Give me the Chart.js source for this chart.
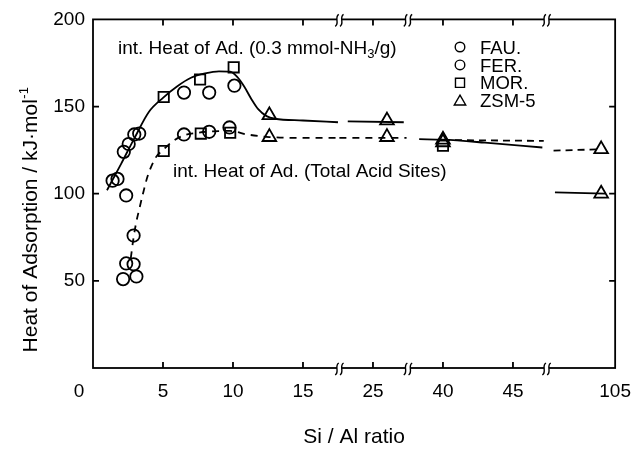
<!DOCTYPE html>
<html>
<head>
<meta charset="utf-8">
<script src="https://cdn.jsdelivr.net/npm/chart.js@4.4.1/dist/chart.umd.min.js"></script>
<style>
html,body{margin:0;padding:0;background:#fff;}
#wrap{width:643px;height:456px;}
</style>
</head>
<body>
<div id="wrap"><canvas id="c" width="643" height="456"></canvas></div>
<script>
const FONT = "'Liberation Sans', Arial, Helvetica, sans-serif";

// ---- axis definition (broken Si/Al axis: kept segments in real units) ----
const xSegments = [[0, 17.6], [22.6, 27.5], [37.5, 47.4], [100.1, 105]];
const xTickValues = [0, 5, 10, 15, 25, 40, 45, 105];
const xTickLabels = ['0', '5', '10', '15', '25', '40', '45', '105'];
const yTickValues = [0, 50, 100, 150, 200];
const legendLabels = ['FAU.', 'FER.', 'MOR.', 'ZSM-5'];
const legendStyles = ['circle', 'circle', 'rect', 'triangle'];

// ---- int. Heat of Ad. (0.3 mmol-NH3/g) ----
const upFAU_x = [1.4, 1.75, 2.2, 2.37, 2.55, 2.95, 3.3];
const upFAU_y = [107.5, 108.5, 124, 99, 128.5, 134, 134.5];
const upFER_x = [6.5, 8.3, 10.1];
const upFER_y = [158, 158, 162];
const upMOR_x = [5.05, 7.65, 10.05];
const upMOR_y = [155.5, 165.5, 172.5];
const upZSM_x = [12.6, 26, 40, 104];
const upZSM_y = [145, 142, 131, 100];

// ---- int. Heat of Ad. (Total Acid Sites) ----
const totFAU_x = [2.15, 2.37, 2.9, 2.9, 3.1];
const totFAU_y = [51, 60, 59.5, 76, 52.5];
const totFER_x = [6.5, 8.3, 9.75];
const totFER_y = [134, 135.5, 138];
const totMOR_x = [5.05, 7.7, 9.8, 40];
const totMOR_y = [124.5, 134.5, 135, 127.5];
const totZSM_x = [12.6, 26, 40, 104];
const totZSM_y = [132.5, 132.5, 129.5, 125.5];

// ---- fitted curves ----
const fitUpA_x = [1.0, 2.0, 3.0, 4.0, 5.0, 6.0, 7.0, 8.0, 9.0, 9.8, 10.3, 10.8, 11.3, 11.8, 12.4, 13.0, 15.0, 17.5];
const fitUpA_y = [102, 117, 132.5, 147, 155, 161.5, 166.5, 169, 170.2, 170, 167, 161.5, 154.5, 148.5, 144.5, 143, 142, 141];
const fitUpB_x = [23.2, 27.2];
const fitUpB_y = [141.5, 141];
const fitUpC_x = [38.3, 40, 43, 47.1];
const fitUpC_y = [131.3, 131, 129.3, 126.5];
const fitUpD_x = [100.7, 104.3];
const fitUpD_y = [100.8, 100];

const fitTotA_x = [2.7, 2.9, 3.1, 3.3, 3.6, 3.9, 4.5, 5.0, 5.6, 6.5, 7.5, 8.5, 9.8, 11.0, 12.6, 15.0, 17.5];
const fitTotA_y = [63, 75, 84, 91, 101, 110, 121, 125, 129.5, 133.5, 135, 135.8, 136, 134, 132.5, 132, 132];
const fitTotB_x = [22.6, 27.4];
const fitTotB_y = [132, 132];
const fitTotC_x = [40, 47.2];
const fitTotC_y = [130.8, 130.3];
const fitTotD_x = [100.6, 104];
const fitTotD_y = [124.7, 125.5];

// map a real Si/Al value onto the broken axis
function toAxis(r) {
  let off = 0;
  for (let i = 0; i < xSegments.length; i++) {
    const a = xSegments[i][0], b = xSegments[i][1];
    if (r < a) return off;
    if (r <= b || i === xSegments.length - 1) return off + (r - a);
    off += b - a;
  }
  return off;
}
function axisMax() { return xSegments.reduce((s, g) => s + g[1] - g[0], 0); }
function breakPositions() {
  const out = []; let off = 0;
  for (let i = 0; i < xSegments.length - 1; i++) { off += xSegments[i][1] - xSegments[i][0]; out.push(off); }
  return out;
}
function pts(xs, ys) { return xs.map((v, i) => ({ x: toAxis(v), y: ys[i] })); }

function markerSet(label, xs, ys, style) {
  const r = style === 'circle' ? 6.2 : (style === 'rect' ? 7.3 : 7.9);
  return {
    label, data: pts(xs, ys), showLine: false, pointStyle: style,
    pointRadius: r, pointHoverRadius: r, pointBorderWidth: 1.8,
    pointBorderColor: '#000', pointBackgroundColor: 'rgba(0,0,0,0)', order: 1
  };
}
function curve(xs, ys, dash) {
  return {
    label: 'fit', data: pts(xs, ys), showLine: true, pointRadius: 0, pointHoverRadius: 0,
    borderColor: '#000', borderWidth: 1.8, borderDash: dash || [], cubicInterpolationMode: 'monotone',
    fill: false, order: 2
  };
}

function drawSquiggle(ctx, cx, cy) {
  ctx.beginPath();
  ctx.moveTo(cx + 1.8, cy - 6);
  ctx.bezierCurveTo(cx - 3, cy - 3, cx + 3, cy + 3, cx - 1.8, cy + 6);
  ctx.stroke();
}

const overlay = {
  id: 'overlay',
  afterDraw(chart) {
    const { ctx, chartArea: ca, scales } = chart;
    const x = scales.x, y = scales.y;
    ctx.save();
    ctx.strokeStyle = '#000';
    ctx.lineWidth = 1.8;
    ctx.strokeRect(ca.left, ca.top, ca.right - ca.left, ca.bottom - ca.top);
    // inward ticks on all four sides
    const TL = 6;
    ctx.beginPath();
    xTickValues.forEach((v, i) => {
      if (i === 0 || i === xTickValues.length - 1) return;
      const px = x.getPixelForValue(toAxis(v));
      ctx.moveTo(px, ca.bottom); ctx.lineTo(px, ca.bottom - TL);
      ctx.moveTo(px, ca.top); ctx.lineTo(px, ca.top + TL);
    });
    yTickValues.forEach(v => {
      if (v === yTickValues[0] || v === yTickValues[yTickValues.length - 1]) return;
      const py = y.getPixelForValue(v);
      ctx.moveTo(ca.left, py); ctx.lineTo(ca.left + TL, py);
      ctx.moveTo(ca.right, py); ctx.lineTo(ca.right - TL, py);
    });
    ctx.stroke();
    // axis breaks
    ctx.lineWidth = 1.4;
    breakPositions().forEach(v => {
      const px = x.getPixelForValue(v);
      [ca.top, ca.bottom].forEach(py => {
        ctx.fillStyle = '#fff';
        ctx.fillRect(px - 2.4, py - 3, 4.8, 6);
        drawSquiggle(ctx, px - 2.4, py + 1);
        drawSquiggle(ctx, px + 2.4, py + 1);
      });
    });
    // origin label "0"
    ctx.fillStyle = '#000';
    ctx.font = '19px ' + FONT;
    ctx.textAlign = 'center';
    ctx.textBaseline = 'middle';
    ctx.fillText(xTickLabels[0], x.getPixelForValue(0) - 14, ca.bottom + 24);

    // y-axis title with superscript
    ctx.save();
    ctx.translate(37, 220);
    ctx.rotate(-Math.PI / 2);
    ctx.textBaseline = 'alphabetic';
    ctx.textAlign = 'left';
    const main = 'Heat of Adsorption / kJ\u00B7mol';
    const sup = '-1';
    ctx.font = '21px ' + FONT;
    const wMain = ctx.measureText(main).width;
    ctx.font = '13px ' + FONT;
    const wSup = ctx.measureText(sup).width;
    const x0 = -(wMain + wSup) / 2;
    ctx.font = '21px ' + FONT;
    ctx.fillText(main, x0, 0);
    ctx.font = '13px ' + FONT;
    ctx.fillText(sup, x0 + wMain + 0.5, -9);
    ctx.restore();

    // annotations
    ctx.textAlign = 'left';
    ctx.textBaseline = 'alphabetic';
    ctx.font = '19px ' + FONT;
    let t1 = 'int. Heat of Ad. (0.3 mmol-NH';
    let ax = 118, ab = 53.5;
    ctx.fillText(t1, ax, ab);
    ax += ctx.measureText(t1).width;
    ctx.font = '13px ' + FONT;
    ctx.fillText('3', ax, ab + 4);
    ax += ctx.measureText('3').width;
    ctx.font = '19px ' + FONT;
    ctx.fillText('/g)', ax, ab);
    ctx.fillText('int. Heat of Ad. (Total Acid Sites)', 173, 177);

    // legend
    const lx = 460, ly0 = 47, dy = 17.9;
    legendLabels.forEach((lab, i) => {
      const cy = ly0 + i * dy;
      const st = legendStyles[i];
      const r = st === 'circle' ? 4.8 : (st === 'rect' ? 6.4 : 6.6);
      ctx.fillStyle = 'rgba(0,0,0,0)';
      ctx.strokeStyle = '#000';
      Chart.helpers.drawPoint(ctx, { pointStyle: st, radius: r, rotation: 0, borderWidth: 1.6 }, lx, cy + (st === 'triangle' ? 1 : 0));
      ctx.fillStyle = '#000';
      ctx.font = '18.5px ' + FONT;
      ctx.fillText(lab, 480, cy + 6.6);
    });
    ctx.restore();
  }
};

const datasets = [
  curve(fitUpA_x, fitUpA_y), curve(fitUpB_x, fitUpB_y), curve(fitUpC_x, fitUpC_y), curve(fitUpD_x, fitUpD_y),
  curve(fitTotA_x, fitTotA_y, [7, 6]), curve(fitTotB_x, fitTotB_y, [7, 6]),
  curve(fitTotC_x, fitTotC_y, [7, 5]), curve(fitTotD_x, fitTotD_y, [7, 5]),
  markerSet('FAU.', upFAU_x, upFAU_y, 'circle'),
  markerSet('FER.', upFER_x, upFER_y, 'circle'),
  markerSet('MOR.', upMOR_x, upMOR_y, 'rect'),
  markerSet('ZSM-5', upZSM_x, upZSM_y, 'triangle'),
  markerSet('FAU.', totFAU_x, totFAU_y, 'circle'),
  markerSet('FER.', totFER_x, totFER_y, 'circle'),
  markerSet('MOR.', totMOR_x, totMOR_y, 'rect'),
  markerSet('ZSM-5', totZSM_x, totZSM_y, 'triangle')
];

new Chart(document.getElementById('c'), {
  type: 'scatter',
  data: { datasets },
  options: {
    responsive: false,
    devicePixelRatio: 1,
    animation: false,
    layout: { padding: { top: 18, right: 19, left: 0, bottom: 0 } },
    plugins: { legend: { display: false }, tooltip: { enabled: false } },
    scales: {
      x: {
        type: 'linear', min: 0, max: axisMax(),
        grid: { display: false, drawTicks: false },
        border: { display: false },
        afterBuildTicks: s => { s.ticks = xTickValues.map(v => ({ value: toAxis(v) })); },
        afterFit: s => { s.height = 88; },
        ticks: {
          autoSkip: false, maxRotation: 0, padding: 12, color: '#000',
          font: { family: FONT, size: 19 },
          callback: (v, i) => (i === 0 ? '' : xTickLabels[i])
        },
        title: {
          display: true, text: 'Si / Al ratio', color: '#000',
          font: { family: FONT, size: 21 }, padding: { top: 0, bottom: 6 }
        }
      },
      y: {
        min: 0, max: 200,
        grid: { display: false, drawTicks: false },
        border: { display: false },
        afterBuildTicks: s => { s.ticks = yTickValues.map(v => ({ value: v })); },
        afterFit: s => { s.width = 93; },
        ticks: {
          padding: 8, color: '#000', font: { family: FONT, size: 19 },
          callback: v => (v === 0 ? '' : String(v))
        }
      }
    }
  },
  plugins: [overlay]
});
</script>
</body>
</html>
